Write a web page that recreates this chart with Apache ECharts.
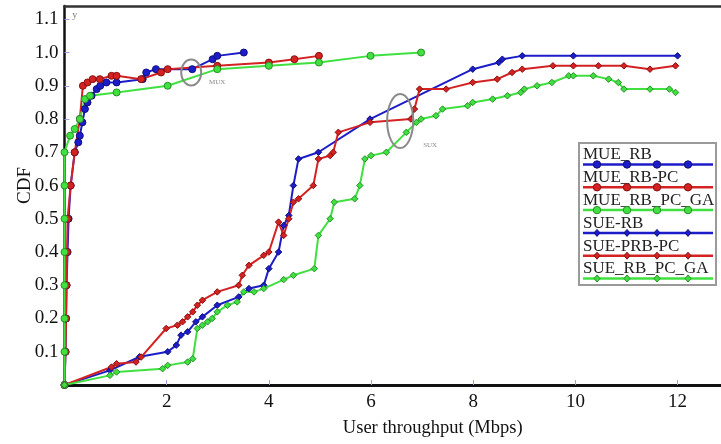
<!DOCTYPE html>
<html><head><meta charset="utf-8">
<script src="https://cdn.jsdelivr.net/npm/echarts@6/dist/echarts.min.js"></script>
<style>html,body{margin:0;padding:0;background:#fff}#c{width:721px;height:444px}</style>
</head><body><div id="c"></div>
<script>
const seriesNames = ['MUE_RB','MUE_RB-PC','MUE_RB_PC_GA','SUE-RB','SUE-PRB-PC','SUE_RB_PC_GA'];

const mueRbX = [0,0.02,0.03,0.04,0.06,0.08,0.12,0.2,0.27,0.3,0.35,0.4,0.45,0.53,0.63,0.7,0.82,1.02,1.53,1.6,1.79,2.5,2.9,2.99,3.51];
const mueRbY = [0,0.1,0.2,0.3,0.4,0.5,0.6,0.7,0.73,0.75,0.79,0.83,0.85,0.87,0.89,0.9,0.91,0.91,0.92,0.94,0.95,0.95,0.98,0.99,1.0];

const mueRbPcX = [0,0.02,0.03,0.04,0.05,0.06,0.12,0.2,0.3,0.36,0.45,0.55,0.69,0.92,1.02,1.5,1.89,2.02,2.99,4.0,4.5,4.98];
const mueRbPcY = [0,0.1,0.2,0.3,0.4,0.5,0.6,0.7,0.8,0.9,0.91,0.92,0.92,0.93,0.93,0.92,0.94,0.95,0.96,0.97,0.98,0.99];

const mueGaX = [0,0,0,0,0,0,0,0,0.11,0.2,0.3,0.4,0.5,1.02,2.02,2.99,4.0,4.98,5.99,6.98];
const mueGaY = [0,0.1,0.2,0.3,0.4,0.5,0.6,0.7,0.75,0.77,0.8,0.86,0.87,0.88,0.9,0.95,0.96,0.97,0.99,1.0];

const sueRbX = [0,0.89,1.47,2.02,2.19,2.28,2.41,2.57,2.7,2.99,3.41,3.61,3.9,4.0,4.19,4.29,4.39,4.48,4.58,4.97,5.98,7.99,8.5,8.57,8.96,9.96,12];
const sueRbY = [0,0.044,0.085,0.1,0.12,0.15,0.16,0.19,0.205,0.24,0.265,0.29,0.3,0.35,0.4,0.48,0.51,0.6,0.68,0.7,0.8,0.95,0.97,0.98,0.99,0.99,0.99];

const suePrbPcX = [0,0.92,1.02,1.4,1.5,1.99,2.21,2.31,2.41,2.51,2.6,2.7,2.99,3.41,3.48,3.61,3.9,4.0,4.19,4.29,4.39,4.48,4.58,4.87,4.97,5.2,5.26,5.36,5.98,6.78,6.85,6.95,7.47,7.99,8.47,8.76,8.96,9.56,9.96,10.45,10.95,11.46,11.96];
const suePrbPcY = [0,0.054,0.064,0.069,0.084,0.17,0.18,0.19,0.205,0.22,0.24,0.255,0.28,0.3,0.33,0.36,0.39,0.4,0.49,0.45,0.5,0.55,0.56,0.6,0.68,0.69,0.7,0.76,0.79,0.8,0.83,0.89,0.89,0.91,0.92,0.94,0.95,0.96,0.96,0.96,0.96,0.95,0.96];

const sueGaX = [0,0.89,1.02,1.92,2.02,2.41,2.51,2.6,2.7,2.8,2.89,2.99,3.19,3.38,3.51,3.71,3.9,4.29,4.48,4.89,4.97,5.2,5.28,5.68,5.78,5.88,6.0,6.3,6.69,6.89,6.98,7.27,7.4,7.89,7.99,8.38,8.67,8.93,9.0,9.25,9.54,9.87,9.96,10.35,10.65,10.84,10.95,11.46,11.84,11.96];
const sueGaY = [0,0.029,0.039,0.049,0.059,0.069,0.079,0.17,0.18,0.19,0.2,0.22,0.24,0.25,0.28,0.28,0.29,0.317,0.33,0.35,0.45,0.5,0.55,0.56,0.6,0.68,0.69,0.7,0.76,0.79,0.8,0.81,0.83,0.84,0.85,0.86,0.87,0.88,0.89,0.9,0.91,0.93,0.93,0.93,0.92,0.91,0.89,0.89,0.89,0.88];

const xTickValues = [2,4,6,8,10,12];
const yTickValues = [0.1,0.2,0.3,0.4,0.5,0.6,0.7,0.8,0.9,1.0,1.1];

// annotations (data coords)
const muxEllipse = {x:2.48, y:0.94, label:'MUX', lx:2.83, ly:0.912};
const suxEllipse = {x:6.57, y:0.794, label:'SUX', lx:7.02, ly:0.72};

const BLUE = '#1c1cc8', RED = '#d42222', GREEN = '#3fe03f';
const BLUE_B = '#10107a', RED_B = '#8a1010', GREEN_B = '#2a8f2a';
const FONT = '"Liberation Serif", "DejaVu Serif", serif';

function zip(xs, ys){ return xs.map((x,i)=>[x, ys[i]]); }

const defs = [
  {name: seriesNames[0], x: mueRbX, y: mueRbY, c: BLUE, b: BLUE_B, sym: 'circle', size: 7},
  {name: seriesNames[1], x: mueRbPcX, y: mueRbPcY, c: RED, b: RED_B, sym: 'circle', size: 7},
  {name: seriesNames[2], x: mueGaX, y: mueGaY, c: GREEN, b: GREEN_B, sym: 'circle', size: 7},
  {name: seriesNames[3], x: sueRbX, y: sueRbY, c: BLUE, b: BLUE_B, sym: 'diamond', size: 6.5},
  {name: seriesNames[4], x: suePrbPcX, y: suePrbPcY, c: RED, b: RED_B, sym: 'diamond', size: 6.5},
  {name: seriesNames[5], x: sueGaX, y: sueGaY, c: GREEN, b: GREEN_B, sym: 'diamond', size: 6.5}
];

const XMAX = 12.85, YMAX = 1.14;

const chart = echarts.init(document.getElementById('c'), null, {renderer: 'canvas'});
chart.setOption({
  animation: false,
  backgroundColor: '#fff',
  grid: {left: 64.5, right: 0, top: 6, bottom: 59, containLabel: false, outerBoundsMode: 'none'},
  xAxis: [{
    type: 'value', min: 0, max: XMAX, interval: 2,
    name: 'User throughput (Mbps)', nameLocation: 'middle', nameGap: 34, nameMoveOverlap: false,
    nameTextStyle: {fontFamily: FONT, fontSize: 18.5, color: '#111', padding: [0,0,0,80]},
    axisLine: {show: true, lineStyle: {color: '#111', width: 3}},
    axisTick: {show: true, inside: true, length: 5, lineStyle: {color: '#a0a0e0', width: 1}},
    axisLabel: {show: true, margin: 8, showMinLabel: false, showMaxLabel: false, fontFamily: FONT, fontSize: 19, color: '#111',
      formatter: v => xTickValues.indexOf(v) >= 0 ? String(v) : ''},
    splitLine: {show: false}
  }, {
    type: 'value', min: 0, max: XMAX, position: 'top',
    axisLine: {show: true, lineStyle: {color: '#333', width: 2.5}},
    axisTick: {show: false}, axisLabel: {show: false}, splitLine: {show: false}
  }],
  yAxis: {
    type: 'value', min: 0, max: YMAX, interval: 0.1,
    name: 'CDF', nameLocation: 'middle', nameGap: 30, nameMoveOverlap: false,
    nameTextStyle: {fontFamily: FONT, fontSize: 19, color: '#111', padding: [0,0,0,20]},
    axisLine: {show: true, lineStyle: {color: '#111', width: 2.5}},
    axisTick: {show: true, inside: true, length: 5, lineStyle: {color: '#a0a0e0', width: 1}},
    axisLabel: {show: true, margin: 6, showMinLabel: false, showMaxLabel: false, fontFamily: FONT, fontSize: 19, color: '#111',
      formatter: v => yTickValues.some(t => Math.abs(t - v) < 1e-6) ? v.toFixed(1) : ''},
    splitLine: {show: false}
  },
  series: defs.map(d => ({
    name: d.name, type: 'line', data: zip(d.x, d.y),
    symbol: d.sym, symbolSize: d.size, showSymbol: true, clip: false,
    lineStyle: {color: d.c, width: 2},
    itemStyle: {color: d.c, borderColor: d.b, borderWidth: 1},
    emphasis: {disabled: true}
  }))
});

// annotations and custom legend
const graphics = [];
function px(x, y){ return chart.convertToPixel({xAxisIndex: 0, yAxisIndex: 0}, [x, y]); }
const m = px(muxEllipse.x, muxEllipse.y);
graphics.push({type: 'ellipse', shape: {cx: m[0], cy: m[1], rx: 10, ry: 13}, style: {fill: 'none', stroke: '#8a8a8a', lineWidth: 2}, z: 20});
const ml = px(muxEllipse.lx, muxEllipse.ly);
graphics.push({type: 'text', x: ml[0], y: ml[1], style: {text: muxEllipse.label, fill: '#888', font: '7px ' + FONT, align: 'left', verticalAlign: 'middle'}, z: 20});
const s = px(suxEllipse.x, suxEllipse.y);
graphics.push({type: 'ellipse', shape: {cx: s[0], cy: s[1], rx: 13, ry: 27}, style: {fill: 'none', stroke: '#8a8a8a', lineWidth: 2}, z: 20});
const sl = px(suxEllipse.lx, suxEllipse.ly);
graphics.push({type: 'text', x: sl[0], y: sl[1], style: {text: suxEllipse.label, fill: '#888', font: '7px ' + FONT, align: 'left', verticalAlign: 'middle'}, z: 20});
const yl = px(0.15, 1.112);
graphics.push({type: 'text', x: yl[0], y: yl[1], style: {text: 'y', fill: '#777', font: '10px ' + FONT, align: 'left', verticalAlign: 'middle'}, z: 20});

// legend
const LX = 579, LY = 143, LW = 137, LH = 142, STEP = 22.8;
const legendChildren = [{type: 'rect', shape: {x: LX, y: LY, width: LW, height: LH}, style: {fill: '#fff', stroke: '#9a9a9a', lineWidth: 2}}];
const markXs = [597, 627, 657, 688];
defs.forEach((d, i) => {
  const ty = 155 + i * STEP, ly = 164.5 + i * STEP;
  legendChildren.push({type: 'text', x: LX + 4, y: ty, style: {text: d.name, fill: '#222', font: '17px ' + FONT, align: 'left', verticalAlign: 'middle'}});
  legendChildren.push({type: 'line', shape: {x1: LX + 4, y1: ly, x2: LX + LW - 3, y2: ly}, style: {stroke: d.c, lineWidth: 2.5}});
  markXs.forEach(mx => {
    if (d.sym === 'circle') {
      legendChildren.push({type: 'circle', shape: {cx: mx, cy: ly, r: 3.7}, style: {fill: d.c, stroke: d.b, lineWidth: 1}});
    } else {
      legendChildren.push({type: 'polygon', shape: {points: [[mx, ly - 3.5], [mx + 3, ly], [mx, ly + 3.5], [mx - 3, ly]]}, style: {fill: d.c, stroke: d.b, lineWidth: 1}});
    }
  });
});
graphics.push({type: 'group', children: legendChildren, z: 30});

chart.setOption({graphic: graphics});
</script>
</body></html>
